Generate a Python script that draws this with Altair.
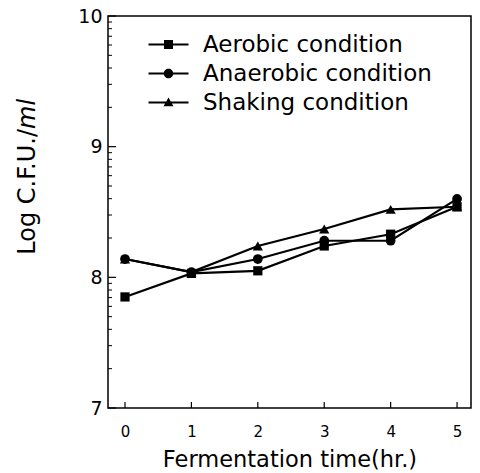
import altair as alt
import pandas as pd

# ---- data ----
time_hr = [0, 1, 2, 3, 4, 5]
aerobic = [7.85, 8.03, 8.05, 8.24, 8.33, 8.54]
anaerobic = [8.14, 8.04, 8.14, 8.28, 8.28, 8.60]
shaking = [8.14, 8.04, 8.24, 8.37, 8.52, 8.54]
conditions = ["Aerobic condition", "Anaerobic condition", "Shaking condition"]

x_ticks = [0, 1, 2, 3, 4, 5]
y_major = [7, 8, 9, 10]
y_minor = [7.301, 7.477, 7.602, 7.699, 7.778, 7.845, 7.903, 7.954,
           8.301, 8.477, 8.602, 8.699, 8.778, 8.845, 8.903, 8.954,
           9.301, 9.477, 9.602, 9.699, 9.778, 9.845, 9.903, 9.954]

rows = []
for c, vals in zip(conditions, [aerobic, anaerobic, shaking]):
    for t, v in zip(time_hr, vals):
        rows.append({"time": t, "cfu": v, "cond": c})
df = pd.DataFrame(rows)

W, H = 363, 392
FONT = "DejaVu Sans"
xs = alt.Scale(domain=[-0.256, 5.21], nice=False, zero=False)
ys = alt.Scale(domain=[7, 10], nice=False, zero=False)

x_axis = alt.Axis(values=x_ticks, title="Fermentation time(hr.)",
                  domain=False, ticks=False, grid=False,
                  labelFont=FONT, labelFontSize=15, labelColor="black",
                  labelPadding=16, titleFont=FONT, titleFontSize=22.5,
                  titleFontWeight="normal", titleColor="black",
                  titleY=58, titleBaseline="alphabetic")
y_axis = alt.Axis(values=y_major, title=None, domain=False, ticks=False,
                  grid=False, labelFont=FONT, labelFontSize=19,
                  labelColor="black", labelPadding=6)

X = lambda f: alt.X(f, scale=xs, axis=x_axis, title="Fermentation time(hr.)")
Y = lambda f: alt.Y(f, scale=ys, axis=y_axis, title=None)

lines = alt.Chart(df).mark_line(color="black", strokeWidth=2.2).encode(
    x=X("time:Q"), y=Y("cfu:Q"), detail="cond:N",
)

points = alt.Chart(df).mark_point(filled=True, color="black", opacity=1).encode(
    x=X("time:Q"), y=Y("cfu:Q"),
    shape=alt.Shape("cond:N", scale=alt.Scale(domain=conditions,
                    range=["square", "circle", "triangle-up"]), legend=None),
    size=alt.Size("cond:N", scale=alt.Scale(domain=conditions, range=[85, 105, 110]),
                  legend=None),
)

paths = [
    "M-4,-0.2H4V0.2H-4Z M-0.9,-0.9H0.9V0.9H-0.9Z",
    "M-4,-0.2H4V0.2H-4Z M0.95,0A0.95,0.95,0,1,1,-0.95,0A0.95,0.95,0,1,1,0.95,0Z",
    "M-4,-0.2H4V0.2H-4Z M0,-1L1,0.75H-1Z",
]
legend_layer = alt.Chart(df).transform_filter("datum.time < -1").mark_point(
    filled=True, color="black", opacity=1).encode(
    x=X("time:Q"), y=Y("cfu:Q"),
    shape=alt.Shape("cond:N", scale=alt.Scale(domain=conditions, range=paths),
                    legend=alt.Legend(title=None, orient="none", legendX=49, legendY=17,
                                      padding=0, labelFont=FONT, labelFontSize=23,
                                      labelColor="black", labelOffset=23, labelLimit=400,
                                      symbolSize=100, rowPadding=5,
                                      symbolFillColor="black", symbolStrokeWidth=0,
                                      symbolOpacity=1)),
)

major_df = pd.DataFrame({"cfu": y_major})
xt_df = pd.DataFrame({"time": x_ticks})

minor_ticks = alt.Chart(pd.DataFrame({"cfu": y_minor})).mark_rule(
    color="black", strokeWidth=1).encode(
    y=Y("cfu:Q"), x=alt.value(0), x2=alt.value(4))
major_ticks = alt.Chart(major_df).mark_rule(color="black", strokeWidth=1.2).encode(
    y=Y("cfu:Q"), x=alt.value(0), x2=alt.value(8))
x_tick_marks = alt.Chart(xt_df).mark_rule(color="black", strokeWidth=1.2).encode(
    x=X("time:Q"), y=alt.value(H), y2=alt.value(H - 6))

yt1 = alt.Chart(pd.DataFrame({"t": ["Log C.F.U./"]})).mark_text(
    angle=270, align="right", baseline="middle", font=FONT, fontSize=24,
    color="black").encode(x=alt.value(-80), y=alt.value(113), text="t:N")
yt2 = alt.Chart(pd.DataFrame({"t": ["ml"]})).mark_text(
    angle=270, align="left", baseline="middle", font=FONT, fontSize=24,
    fontStyle="italic", color="black").encode(x=alt.value(-80), y=alt.value(113), text="t:N")

chart = alt.layer(
    lines, points, legend_layer, minor_ticks, major_ticks, x_tick_marks, yt1, yt2
).resolve_scale(shape="independent", size="independent").properties(
    width=W, height=H,
    padding={"left": 108, "top": 16, "right": 9, "bottom": 65},
    autosize=alt.AutoSizeParams(type="none"),
).configure_view(stroke="black", strokeWidth=1.5)

chart.save("out.html", embed_options={"renderer": "svg", "actions": False})
